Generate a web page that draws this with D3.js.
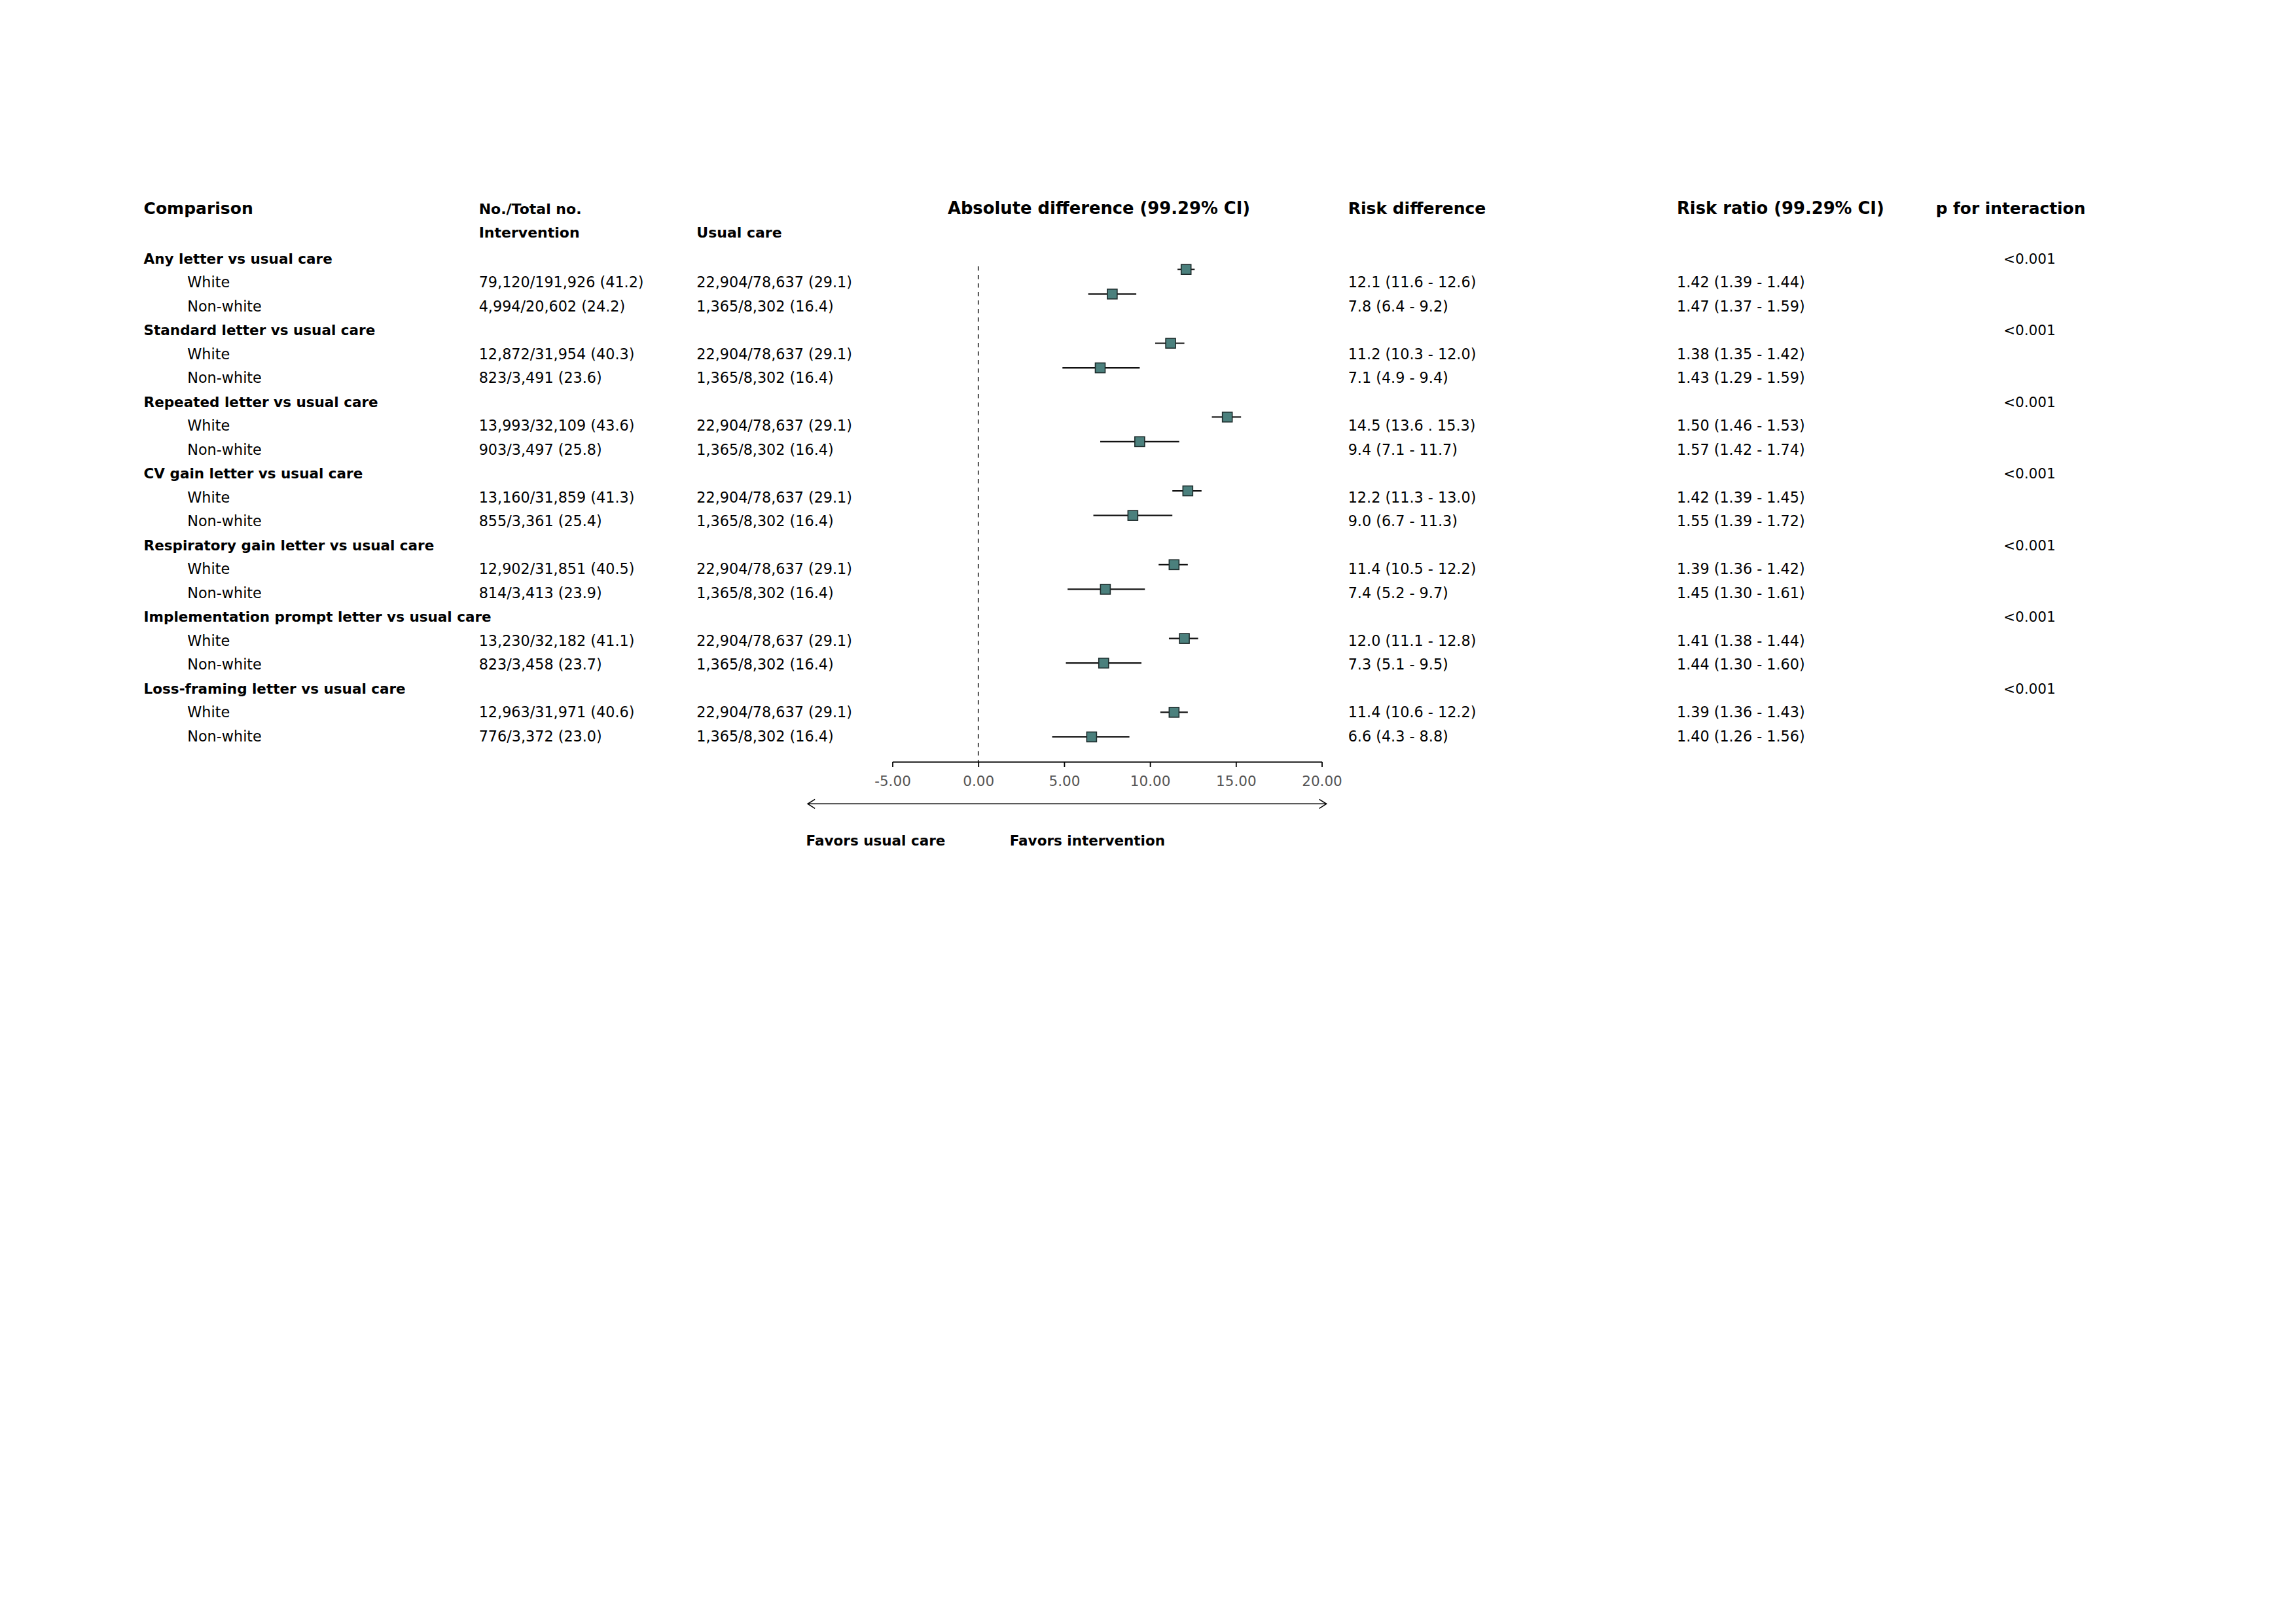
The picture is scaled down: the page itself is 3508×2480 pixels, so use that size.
<!DOCTYPE html>
<html>
<head>
<meta charset="utf-8">
<script src="https://cdn.jsdelivr.net/npm/d3@7"></script>
<style>
  html, body { margin: 0; padding: 0; background: #ffffff; }
  svg { display: block; }
  text { font-family: "DejaVu Sans", Verdana, sans-serif; }
</style>
</head>
<body>
<div id="chart"></div>
<script>
// ---------------- DATA ----------------
const groups = [
  "Any letter vs usual care",
  "Standard letter vs usual care",
  "Repeated letter vs usual care",
  "CV gain letter vs usual care",
  "Respiratory gain letter vs usual care",
  "Implementation prompt letter vs usual care",
  "Loss-framing letter vs usual care"
];
const subgroups = ["White", "Non-white"];

const interventionText = [
  "79,120/191,926 (41.2)", "4,994/20,602 (24.2)",
  "12,872/31,954 (40.3)", "823/3,491 (23.6)",
  "13,993/32,109 (43.6)", "903/3,497 (25.8)",
  "13,160/31,859 (41.3)", "855/3,361 (25.4)",
  "12,902/31,851 (40.5)", "814/3,413 (23.9)",
  "13,230/32,182 (41.1)", "823/3,458 (23.7)",
  "12,963/31,971 (40.6)", "776/3,372 (23.0)"
];
const usualCareText = [
  "22,904/78,637 (29.1)", "1,365/8,302 (16.4)",
  "22,904/78,637 (29.1)", "1,365/8,302 (16.4)",
  "22,904/78,637 (29.1)", "1,365/8,302 (16.4)",
  "22,904/78,637 (29.1)", "1,365/8,302 (16.4)",
  "22,904/78,637 (29.1)", "1,365/8,302 (16.4)",
  "22,904/78,637 (29.1)", "1,365/8,302 (16.4)",
  "22,904/78,637 (29.1)", "1,365/8,302 (16.4)"
];

// Absolute (risk) difference, %, with 99.29% CI
const rdEstimate = [12.1, 7.8, 11.2, 7.1, 14.5, 9.4, 12.2, 9.0, 11.4, 7.4, 12.0, 7.3, 11.4, 6.6];
const rdLower    = [11.6, 6.4, 10.3, 4.9, 13.6, 7.1, 11.3, 6.7, 10.5, 5.2, 11.1, 5.1, 10.6, 4.3];
const rdUpper    = [12.6, 9.2, 12.0, 9.4, 15.3, 11.7, 13.0, 11.3, 12.2, 9.7, 12.8, 9.5, 12.2, 8.8];
const rdText = [
  "12.1 (11.6 - 12.6)", "7.8 (6.4 - 9.2)",
  "11.2 (10.3 - 12.0)", "7.1 (4.9 - 9.4)",
  "14.5 (13.6 . 15.3)", "9.4 (7.1 - 11.7)",
  "12.2 (11.3 - 13.0)", "9.0 (6.7 - 11.3)",
  "11.4 (10.5 - 12.2)", "7.4 (5.2 - 9.7)",
  "12.0 (11.1 - 12.8)", "7.3 (5.1 - 9.5)",
  "11.4 (10.6 - 12.2)", "6.6 (4.3 - 8.8)"
];
const rrText = [
  "1.42 (1.39 - 1.44)", "1.47 (1.37 - 1.59)",
  "1.38 (1.35 - 1.42)", "1.43 (1.29 - 1.59)",
  "1.50 (1.46 - 1.53)", "1.57 (1.42 - 1.74)",
  "1.42 (1.39 - 1.45)", "1.55 (1.39 - 1.72)",
  "1.39 (1.36 - 1.42)", "1.45 (1.30 - 1.61)",
  "1.41 (1.38 - 1.44)", "1.44 (1.30 - 1.60)",
  "1.39 (1.36 - 1.43)", "1.40 (1.26 - 1.56)"
];
const pInteraction = ["<0.001", "<0.001", "<0.001", "<0.001", "<0.001", "<0.001", "<0.001"];

const axisTicks = [-5, 0, 5, 10, 15, 20];
const axisDomain = [-5, 20];

// ---------------- LAYOUT ----------------
const W = 3508, H = 2480;
const svg = d3.select("#chart").append("svg")
  .attr("width", W).attr("height", H)
  .attr("viewBox", `0 0 ${W} ${H}`);
svg.append("rect").attr("width", W).attr("height", H).attr("fill", "#ffffff");

const x = d3.scaleLinear().domain(axisDomain).range([1363.5, 2019.5]);
const nRows = groups.length * 3;               // header + 2 subgroups per group
const yMark = d3.scaleLinear().domain([0, nRows - 1]).range([374.1, 1126]);
const yText = d3.scaleLinear().domain([0, nRows - 1]).range([402.5, 1132.5]);

const col = { comp: 219.6, sub: 286.3, inter: 731.7, usual: 1064.3, rd: 2059.7, rr: 2562, p: 3061 };
const axisY = 1164;

const regSize = 22.3, grpSize = 21.5, hdrSize = 25.8;

// Header row
const hdr = svg.append("g").attr("font-weight", "bold").attr("fill", "#000");
hdr.append("text").attr("x", col.comp).attr("y", 327).attr("font-size", 25).text("Comparison");
hdr.append("text").attr("x", col.inter).attr("y", 327).attr("font-size", 22).text("No./Total no.");
hdr.append("text").attr("x", col.inter).attr("y", 363).attr("font-size", 22).text("Intervention");
hdr.append("text").attr("x", col.usual).attr("y", 363).attr("font-size", 22).text("Usual care");
hdr.append("text").attr("x", 1679).attr("y", 327).attr("text-anchor", "middle").attr("font-size", hdrSize).text("Absolute difference (99.29% CI)");
hdr.append("text").attr("x", col.rd).attr("y", 327).attr("font-size", 25).text("Risk difference");
hdr.append("text").attr("x", col.rr).attr("y", 327).attr("font-size", hdrSize).text("Risk ratio (99.29% CI)");
hdr.append("text").attr("x", 2957.7).attr("y", 327).attr("font-size", 24.8).text("p for interaction");

// Build row records
const rows = [];
groups.forEach((g, gi) => {
  subgroups.forEach((s, si) => {
    const i = gi * 2 + si;
    rows.push({
      row: gi * 3 + 1 + si, label: s,
      inter: interventionText[i], usual: usualCareText[i],
      est: rdEstimate[i], lo: rdLower[i], hi: rdUpper[i],
      rd: rdText[i], rr: rrText[i]
    });
  });
});

// Group headers and p for interaction
const gh = svg.append("g");
gh.selectAll("text.grp").data(groups).join("text")
  .attr("class", "grp")
  .attr("x", col.comp).attr("y", (d, i) => yText(i * 3))
  .attr("font-size", grpSize).attr("font-weight", "bold").text(d => d);
gh.selectAll("text.p").data(pInteraction).join("text")
  .attr("class", "p")
  .attr("x", col.p).attr("y", (d, i) => yText(i * 3))
  .attr("font-size", 21.5).text(d => d);

// Subgroup rows text
const tr = svg.append("g").attr("font-size", regSize).attr("fill", "#000");
const rowG = tr.selectAll("g").data(rows).join("g");
rowG.append("text").attr("x", col.sub).attr("y", d => yText(d.row)).text(d => d.label);
rowG.append("text").attr("x", col.inter).attr("y", d => yText(d.row)).text(d => d.inter);
rowG.append("text").attr("x", col.usual).attr("y", d => yText(d.row)).text(d => d.usual);
rowG.append("text").attr("x", col.rd).attr("y", d => yText(d.row)).text(d => d.rd);
rowG.append("text").attr("x", col.rr).attr("y", d => yText(d.row)).text(d => d.rr);

// Reference (null) line
svg.append("line")
  .attr("x1", x(0)).attr("x2", x(0))
  .attr("y1", 407).attr("y2", axisY)
  .attr("stroke", "#222").attr("stroke-width", 1.6)
  .attr("stroke-dasharray", "6.5,6.5");

// Forest marks
const fm = svg.append("g");
fm.selectAll("line.ci").data(rows).join("line")
  .attr("class", "ci")
  .attr("x1", d => x(d.lo)).attr("x2", d => x(d.hi))
  .attr("y1", d => yMark(d.row)).attr("y2", d => yMark(d.row))
  .attr("stroke", "#111").attr("stroke-width", 2.2);
const sq = 15;
fm.selectAll("rect.pt").data(rows).join("rect")
  .attr("class", "pt")
  .attr("x", d => x(d.est) - sq / 2).attr("y", d => yMark(d.row) - sq / 2)
  .attr("width", sq).attr("height", sq)
  .attr("fill", "#4b807d").attr("stroke", "#1d2b2b").attr("stroke-width", 1.6);

// Axis
const fmt2 = d3.format(".2f");
const axis = d3.axisBottom(x).tickValues(axisTicks)
  .tickFormat(d => fmt2(d).replace("\u2212", "-"))
  .tickSize(8).tickSizeOuter(0).tickPadding(14);
const ax = svg.append("g").attr("transform", `translate(0,${axisY})`).call(axis);
ax.select(".domain").attr("stroke", "#000").attr("stroke-width", 1.8);
ax.selectAll(".tick line").attr("stroke", "#000").attr("stroke-width", 1.8);
ax.selectAll(".tick text").attr("font-size", 21.5).attr("fill", "#555")
  .attr("font-family", '"DejaVu Sans", Verdana, sans-serif');

// Direction arrow
const arrowY = 1228.3;
const ax0 = x(-9.93), ax1 = x(20.27);
const ar = svg.append("g").attr("stroke", "#000").attr("stroke-width", 1.6).attr("fill", "none");
ar.append("line").attr("x1", ax0).attr("x2", ax1).attr("y1", arrowY).attr("y2", arrowY);
ar.append("path").attr("d", `M${ax0 + 11},${arrowY - 7} L${ax0},${arrowY} L${ax0 + 11},${arrowY + 7}`);
ar.append("path").attr("d", `M${ax1 - 11},${arrowY - 7} L${ax1},${arrowY} L${ax1 - 11},${arrowY + 7}`);

svg.append("text").attr("x", 1231.6).attr("y", 1291.7).attr("font-size", 21.5).attr("font-weight", "bold")
  .text("Favors usual care");
svg.append("text").attr("x", 1542.7).attr("y", 1291.7).attr("font-size", 21.5).attr("font-weight", "bold")
  .text("Favors intervention");
</script>
</body>
</html>
